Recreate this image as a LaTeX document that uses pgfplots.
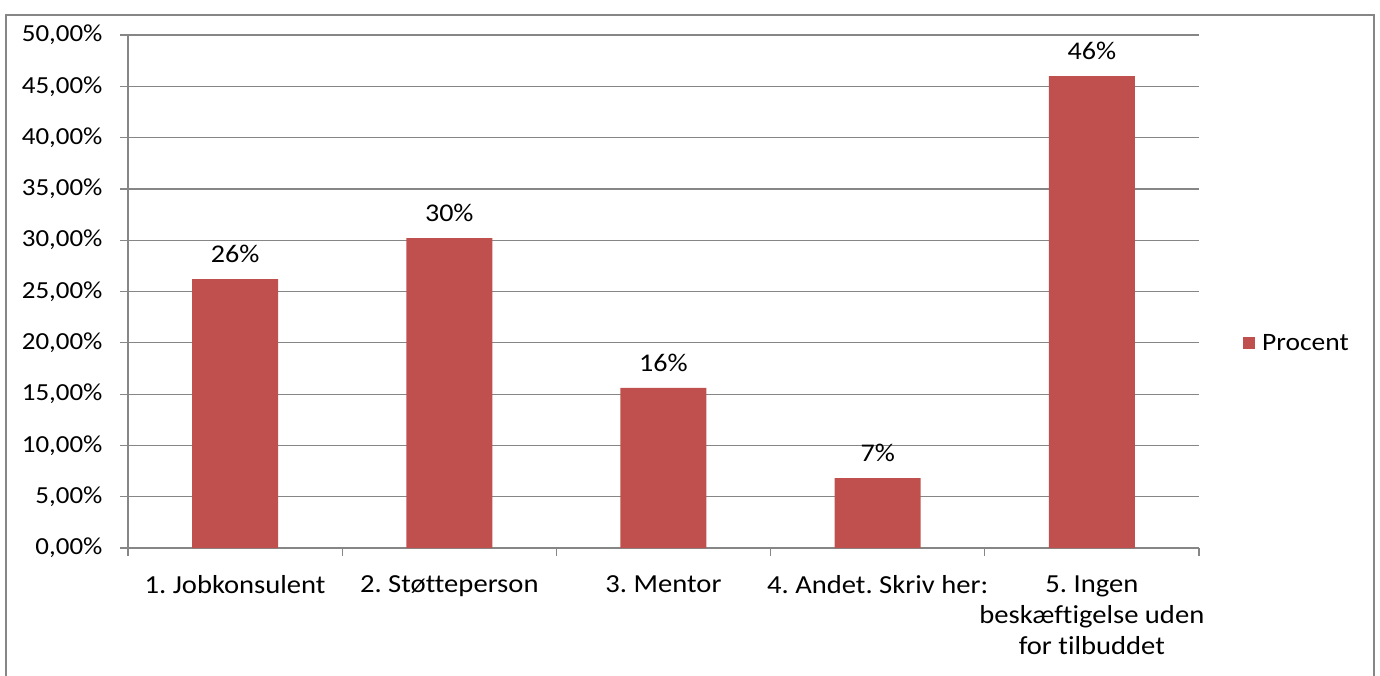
\documentclass[border=0pt]{standalone}
\usepackage{fontspec}
\setmainfont{Carlito}[FakeStretch=1.1, Ligatures=NoCommon]
\usepackage{pgfplots}
\pgfplotsset{compat=1.18}
\definecolor{barred}{HTML}{C0504D}
\definecolor{gridgray}{HTML}{868686}
\frenchspacing
\begin{document}
\begin{tikzpicture}[x=1pt,y=1pt]
\useasboundingbox (0,0) rectangle (1380,675);
\begin{scope}
\clip (0,0) rectangle (1380,675);
\draw[gridgray, line width=1.5pt] (6,-20) rectangle (1374,660);
\end{scope}
\begin{axis}[
  at={(128pt,127pt)}, anchor=south west,
  scale only axis, width=1071pt, height=513pt,
  xmin=-0.5, xmax=4.5, ymin=0, ymax=50,
  axis x line=bottom, axis y line=left,
  axis line style={-, gridgray, line width=1.2pt},
  ymajorgrids, grid style={gridgray, line width=1.2pt},
  tick align=outside,
  major tick length=8pt, minor tick length=8pt,
  every tick/.style={gridgray, line width=1.2pt},
  ytick={0,5,...,50},
  yticklabels={{0,00\%},{5,00\%},{10,00\%},{15,00\%},{20,00\%},{25,00\%},{30,00\%},{35,00\%},{40,00\%},{45,00\%},{50,00\%}},
  xtick={0,1,2,3,4},
  major x tick style={draw=none},
  minor xtick={-0.5,0.5,1.5,2.5,3.5,4.5},
  xticklabels={1. Jobkonsulent, 2. Støtteperson, 3. Mentor, 4. Andet. Skriv her:, {5. Ingen\\beskæftigelse uden\\for tilbuddet}},
  xticklabel style={align=center, anchor=north, yshift=-16pt, font=\fontsize{26}{31}\selectfont},
  yticklabel style={font=\fontsize{24.5}{30}\selectfont, xshift=-14pt},
  /pgf/number format/assume math mode=true,
  ybar, bar width=86pt,
  point meta=explicit symbolic,
  nodes near coords,
  nodes near coords style={font=\fontsize{25.5}{31}\selectfont, anchor=south, yshift=13pt, text=black},
  legend style={draw=none, at={(1,0.4)}, anchor=west, xshift=41pt, font=\fontsize{25}{31}\selectfont},
  legend image code/.code={\fill[barred] (0pt,-6pt) rectangle (12pt,6pt);},
]
\addplot[fill=barred, draw=none] coordinates {
  (0,26.2) [26\%]
  (1,30.2) [30\%]
  (2,15.6) [16\%]
  (3,6.8) [7\%]
  (4,46.0) [46\%]
};
\legend{\hspace{5pt}Procent}
\end{axis}
\end{tikzpicture}
\end{document}
